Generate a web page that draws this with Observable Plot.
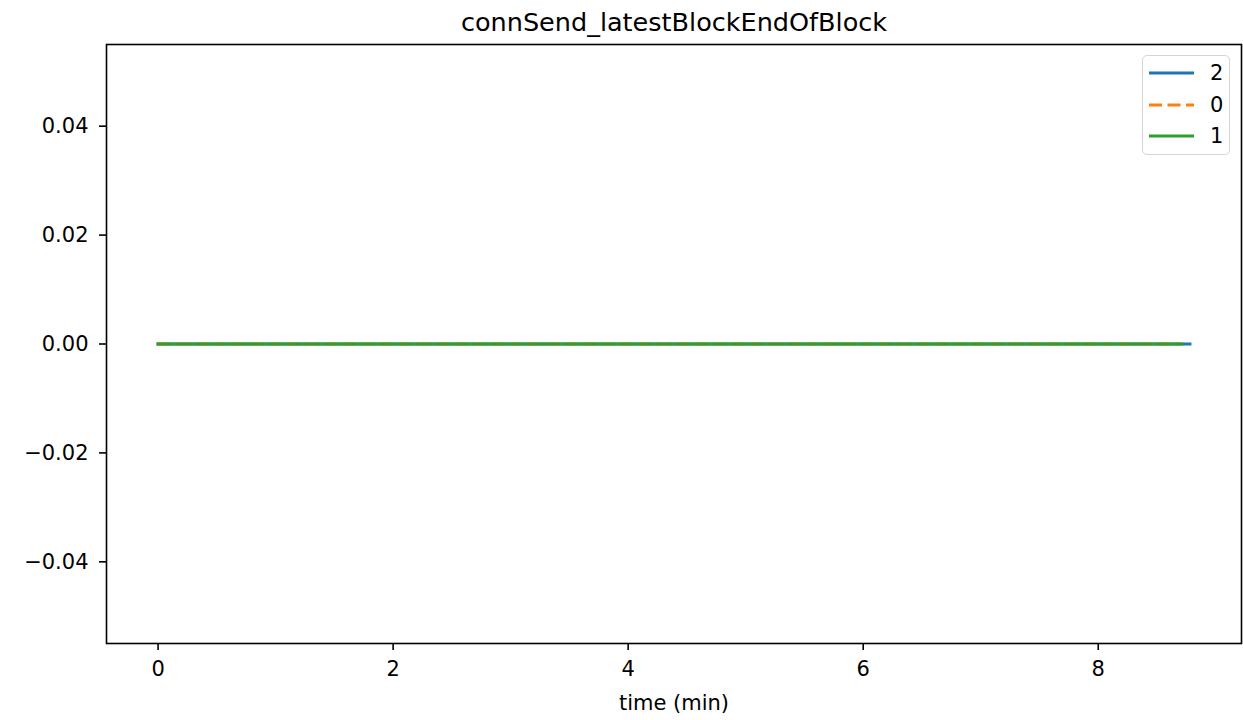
<!DOCTYPE html>
<html>
<head>
<meta charset="utf-8">
<script src="https://cdn.jsdelivr.net/npm/d3@7"></script>
<script src="https://cdn.jsdelivr.net/npm/@observablehq/plot@0.6"></script>
<style>
  html, body { margin: 0; padding: 0; background: white; }
  #wrap { position: relative; width: 1243px; height: 720px; font-family: "DejaVu Sans", sans-serif; }
  #legend { position: absolute; left: 1142px; top: 55px; width: 88px; height: 100px;
    border: 1.6px solid #d5d5d5; border-radius: 5px; background: rgba(255,255,255,0.8); box-sizing: border-box; }
  .row { position: absolute; left: 0; height: 20px; display: flex; align-items: center; }
  .row span { font-size: 21px; color: black; margin-left: 15px; line-height: 20px; }
</style>
</head>
<body>
<div id="wrap"></div>
<script>
const titleText = "connSend_latestBlockEndOfBlock";
const xLabelText = "time (min)";
const seriesNames = ["2", "0", "1"];
const seriesColors = ["#1f77b4", "#ff7f0e", "#2ca02c"];
const seriesDash = [null, "13,5.5", null];
const times2 = [0, 8.78];
const values2 = [0, 0];
const times0 = [0, 8.70];
const values0 = [0, 0];
const times1 = [0, 8.71];
const values1 = [0, 0];
const xTicks = [0, 2, 4, 6, 8];
const yTicks = [-0.04, -0.02, 0, 0.02, 0.04];
const xDomain = [-0.439, 9.219];
const yDomain = [-0.055, 0.055];

const seriesTimes = [times2, times0, times1];
const seriesValues = [values2, values0, values1];
const series = seriesNames.map((name, i) => ({
  name, color: seriesColors[i], dash: seriesDash[i],
  rows: seriesTimes[i].map((t, j) => ({t, v: seriesValues[i][j]}))
}));

const fmtY = d => d.toFixed(2).replace("-", "\u2212");

const chart = Plot.plot({
  width: 1243, height: 720,
  marginLeft: 106, marginRight: 2, marginTop: 44, marginBottom: 77,
  style: {fontFamily: "DejaVu Sans", fontSize: "21px", background: "white", color: "black"},
  x: {domain: xDomain},
  y: {domain: yDomain},
  marks: [
    ...series.map(s => Plot.line(s.rows, {
      x: "t", y: "v", stroke: s.color, strokeWidth: 3.1,
      strokeDasharray: s.dash || undefined, strokeLinecap: s.dash ? "butt" : "square"
    })),
    Plot.frame({stroke: "black", strokeWidth: 1.6}),
    Plot.axisX({ticks: xTicks, tickSize: 7, tickPadding: 11, strokeWidth: 1.6, label: null, tickFormat: d => String(d)}),
    Plot.axisY({ticks: yTicks, tickSize: 7, tickPadding: 11, strokeWidth: 1.6, label: null, tickFormat: fmtY}),
    Plot.text([titleText], {text: d => d, frameAnchor: "top", dy: -32, fontSize: 25.5}),
    Plot.text([xLabelText], {text: d => d, frameAnchor: "bottom", dy: 66, fontSize: 21})
  ]
});

const wrap = document.getElementById("wrap");
wrap.appendChild(chart);

const legend = d3.select(wrap).append("div").attr("id", "legend");
series.forEach((s, i) => {
  const row = legend.append("div").attr("class", "row")
    .style("top", (7 + i * 31.5) + "px").style("left", "5px");
  const svg = row.append("svg").attr("width", 47).attr("height", 20);
  svg.append("line").attr("x1", 1).attr("x2", 46).attr("y1", 10).attr("y2", 10)
    .attr("stroke", s.color).attr("stroke-width", 3.1)
    .attr("stroke-dasharray", s.dash)
    .attr("stroke-linecap", "butt");
  row.append("span").text(s.name);
});
</script>
</body>
</html>
